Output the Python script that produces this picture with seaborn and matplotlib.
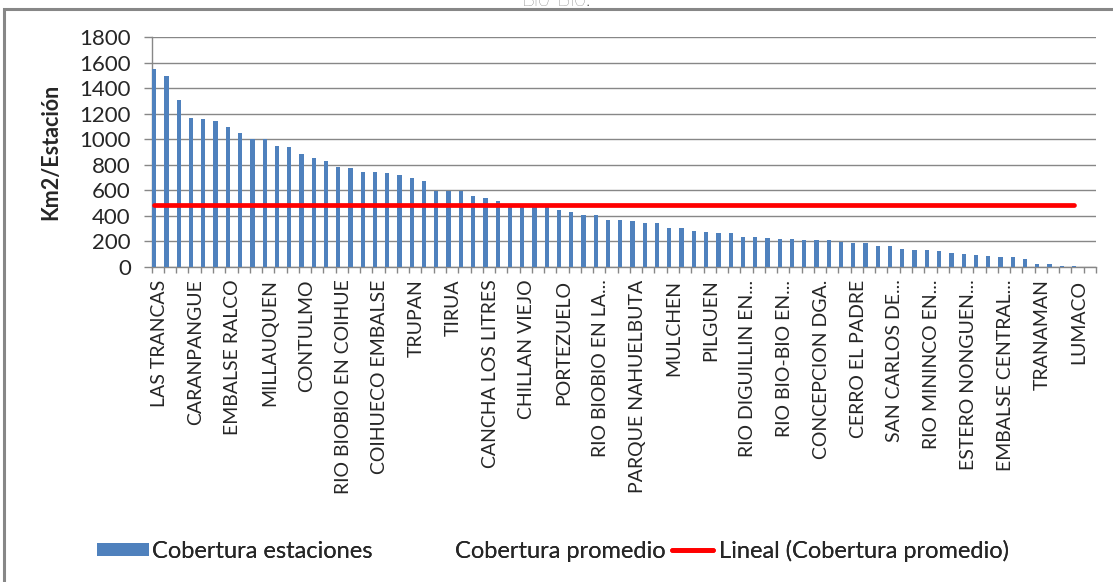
import numpy as np
import pandas as pd
import matplotlib
matplotlib.use("Agg")
import matplotlib.pyplot as plt
from matplotlib.patches import Patch, Rectangle
from matplotlib.lines import Line2D
import seaborn as sns

# Superficie cubierta por estación (km2/estación), ordenada de mayor a menor
cobertura_estaciones = [
    1555, 1493, 1308, 1170, 1160, 1142, 1095, 1050, 1004, 1004,
    946, 939, 884, 855, 829, 783, 772, 746, 746, 736,
    718, 699, 671, 595, 593, 593, 556, 543, 517, 495,
    490, 487, 483, 450, 432, 408, 408, 369, 369, 359,
    343, 343, 304, 304, 286, 278, 268, 268, 239, 239,
    229, 221, 221, 213, 213, 213, 198, 185, 185, 166,
    166, 140, 130, 130, 122, 112, 101, 94, 83, 75,
    75, 65, 21, 21, 10, 10,
]
cobertura_promedio = 485

# Estaciones rotuladas en el eje (una de cada tres)
etiquetas = [
    "LAS TRANCAS", "CARANPANGUE", "EMBALSE RALCO", "MILLAUQUEN", "CONTULMO",
    "RIO BIOBIO EN COIHUE", "COIHUECO EMBALSE", "TRUPAN", "TIRUA",
    "CANCHA LOS LITRES", "CHILLAN VIEJO", "PORTEZUELO", "RIO BIOBIO EN LA...",
    "PARQUE NAHUELBUTA", "MULCHEN", "PILGUEN", "RIO DIGUILLIN EN...",
    "RIO BIO-BIO EN...", "CONCEPCION DGA.", "CERRO EL PADRE",
    "SAN CARLOS DE...", "RIO MININCO EN...", "ESTERO NONGUEN...",
    "EMBALSE CENTRAL...", "TRANAMAN", "LUMACO",
]
paso_etiqueta = 3

titulo = "Bio-Bio."
eje_y = "Km2/Estación"
ticks_y = [0, 200, 400, 600, 800, 1000, 1200, 1400, 1600, 1800]
nombres_leyenda = ["Cobertura estaciones", "Cobertura promedio",
                   "Lineal (Cobertura promedio)"]

AZUL = "#4F81BD"
ROJO = "#FF0000"
GRIS = "#878787"

sns.set_theme(style="white")
plt.rcParams["font.family"] = ["Lato", "DejaVu Sans"]

n = len(cobertura_estaciones)
df = pd.DataFrame({"pos": np.arange(n), "valor": cobertura_estaciones})

fig = plt.figure(figsize=(11.13, 5.82), dpi=100)
ax = fig.add_axes([0.1363, 0.5412, 0.8484, 0.3947])

# Barras de cobertura por estación
sns.barplot(data=df, x="pos", y="valor", native_scale=True, width=0.35,
            color=AZUL, saturation=1, edgecolor="none", ax=ax, zorder=3)

# Línea de cobertura promedio
df_prom = pd.DataFrame({"pos": np.arange(n), "valor": np.full(n, cobertura_promedio)})
sns.lineplot(data=df_prom, x="pos", y="valor", color=ROJO, linewidth=3.4,
             solid_capstyle="round", ax=ax, zorder=4)

# Ejes: cada categoría ocupa una celda; la barra va a la izquierda de la celda
desfase = 0.21
n_celdas = n + 1
ax.set_xlim(-desfase, n_celdas - desfase)
ax.set_ylim(0, 1800)
ax.set_yticks(ticks_y)
ax.set_yticklabels([str(t) for t in ticks_y], fontsize=16)
ax.yaxis.grid(True, color=GRIS, linewidth=1.0, zorder=0)
ax.xaxis.grid(False)

ax.set_xticks(np.arange(n_celdas + 1) - desfase)
ax.set_xticklabels([])
pos_etiquetas = np.arange(0, n, paso_etiqueta)[:len(etiquetas)] + 0.6 - desfase
ax.set_xticks(pos_etiquetas, minor=True)
ax.set_xticklabels(etiquetas, minor=True, rotation=90, fontsize=14,
                   va="top", ha="center")
ax.tick_params(axis="x", which="major", direction="out", length=4, width=1,
               color=GRIS, bottom=True)
ax.tick_params(axis="x", which="minor", length=0, pad=9)
ax.tick_params(axis="y", direction="out", length=6, width=1, color=GRIS,
               left=True, pad=9)

for s in ["top", "right"]:
    ax.spines[s].set_visible(False)
for s in ["left", "bottom"]:
    ax.spines[s].set_color(GRIS)
    ax.spines[s].set_linewidth(1.0)

ax.set_xlabel("")
ax.set_ylabel(eje_y, fontsize=15.5, fontweight="bold")
ax.yaxis.set_label_coords(-0.096, 0.5)

# Leyenda: tres entradas colocadas por separado a lo largo del pie
W = 1113.0
tam_ley = 17
y_ley = 0.053
entradas = [
    (Patch(facecolor=AZUL, edgecolor="none"), nombres_leyenda[0], 97,
     dict(handlelength=2.2, handleheight=0.5, handletextpad=0.12)),
    (Line2D([], [], linestyle="none"), nombres_leyenda[1], 455,
     dict(handlelength=0, handletextpad=0)),
    (Line2D([], [], color=ROJO, linewidth=3.4, solid_capstyle="round"),
     nombres_leyenda[2], 672, dict(handlelength=1.75, handletextpad=0.22)),
]
for h, txt, x0, opts in entradas:
    ley = fig.legend([h], [txt], loc="center left",
                     bbox_to_anchor=(x0 / W, y_ley), frameon=False,
                     fontsize=tam_ley, borderpad=0, borderaxespad=0, **opts)
    fig.add_artist(ley)

# Marco del gráfico y título
fig.patches.append(Rectangle((0.004, -0.01), 1.2, 0.995, transform=fig.transFigure,
                             fill=False, edgecolor=GRIS, linewidth=2.2))
fig.text(0.5, 1.0, titulo, ha="center", va="center", fontsize=15,
         color="#333333", fontweight="light")

fig.savefig("out.png", dpi=100)
